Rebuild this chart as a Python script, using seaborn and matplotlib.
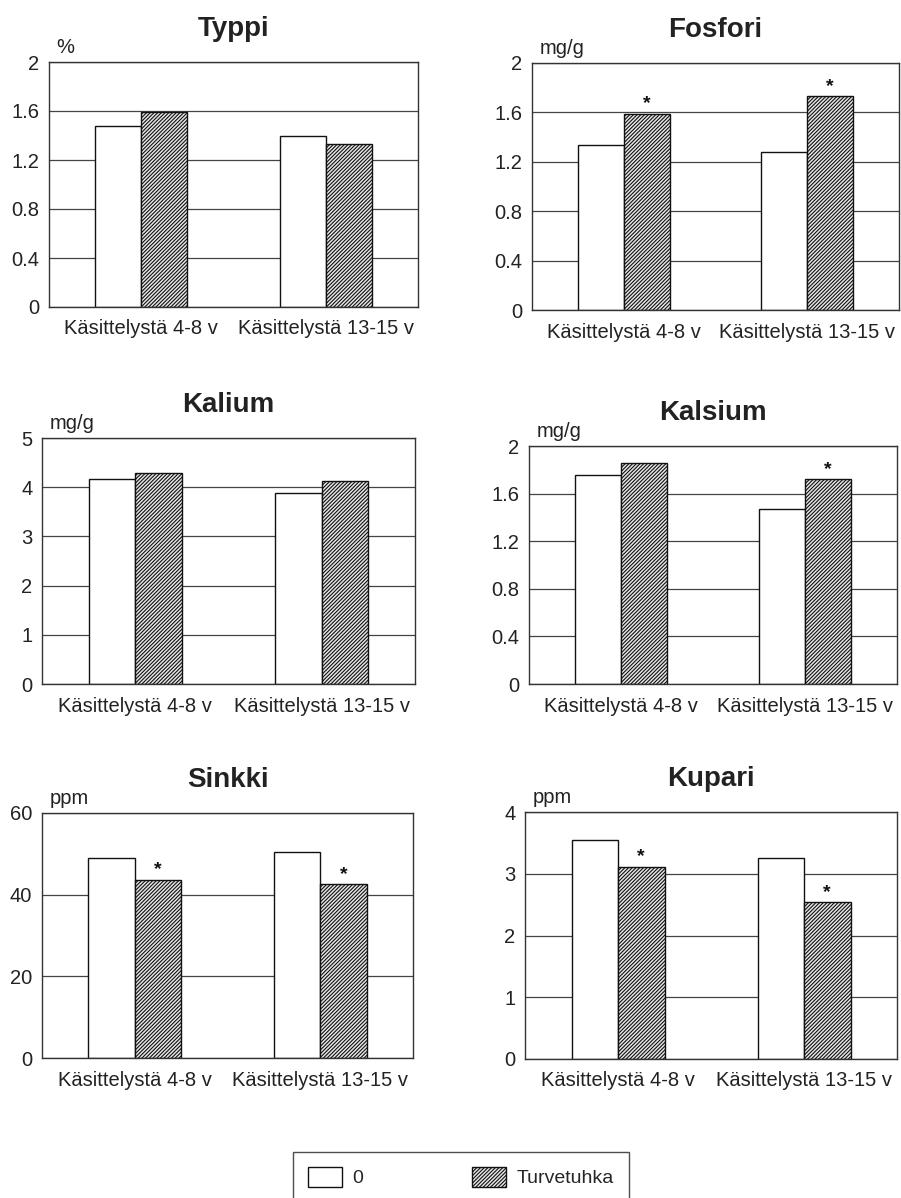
import numpy as np
import pandas as pd
import seaborn as sns
import matplotlib.pyplot as plt
from matplotlib.patches import Patch

######################
####### data #########
######################
categories = ['Käsittelystä 4-8 v', 'Käsittelystä 13-15 v']
groups = ['0', 'Turvetuhka']
titles = ['Typpi', 'Fosfori', 'Kalium', 'Kalsium', 'Sinkki', 'Kupari']
units = ['%', 'mg/g', 'mg/g', 'mg/g', 'ppm', 'ppm']

typpi_0 = [1.48, 1.40]
typpi_t = [1.59, 1.33]
fosfori_0 = [1.34, 1.28]
fosfori_t = [1.59, 1.73]
kalium_0 = [4.17, 3.89]
kalium_t = [4.29, 4.13]
kalsium_0 = [1.76, 1.47]
kalsium_t = [1.86, 1.72]
sinkki_0 = [48.9, 50.5]
sinkki_t = [43.6, 42.5]
kupari_0 = [3.54, 3.26]
kupari_t = [3.11, 2.54]

## significance marks (*) on the Turvetuhka bars
signif = [[False, False], [True, True], [False, False],
          [False, True], [True, True], [True, True]]

yticks = [[0, 0.4, 0.8, 1.2, 1.6, 2],
          [0, 0.4, 0.8, 1.2, 1.6, 2],
          [0, 1, 2, 3, 4, 5],
          [0, 0.4, 0.8, 1.2, 1.6, 2],
          [0, 20, 40, 60],
          [0, 1, 2, 3, 4]]

values = [(typpi_0, typpi_t), (fosfori_0, fosfori_t), (kalium_0, kalium_t),
          (kalsium_0, kalsium_t), (sinkki_0, sinkki_t), (kupari_0, kupari_t)]

#####################
######## plot #######
#####################
sns.set_style('white')
plt.rcParams['font.family'] = ['Liberation Sans', 'DejaVu Sans']
plt.rcParams['hatch.linewidth'] = 0.8
HATCH = '/' * 9

W, H = 901, 1198
fig = plt.figure(figsize=(W / 100, H / 100), dpi=100)

## axes boxes in pixels: left, top, right, bottom
boxes = [(49, 62, 418, 307), (532, 63, 899, 310),
         (42, 438, 415, 684), (529, 446, 897, 684),
         (42, 813, 413, 1058), (525, 812, 897, 1059)]

for i, (l, t, r, b) in enumerate(boxes):
    ax = fig.add_axes([l / W, 1 - b / H, (r - l) / W, (b - t) / H])
    v0, vt = values[i]
    df = pd.DataFrame({'period': categories * 2,
                       'group': [groups[0]] * 2 + [groups[1]] * 2,
                       'value': list(v0) + list(vt)})
    sns.barplot(data=df, x='period', y='value', hue='group', order=categories,
                hue_order=groups, palette={'0': 'white', 'Turvetuhka': '#e6e6e6'},
                saturation=1, width=0.5, edgecolor='#111111', linewidth=1.0,
                errorbar=None, legend=False, ax=ax)
    for bar in ax.containers[1]:
        bar.set_hatch(HATCH)
    ## stars
    for j, bar in enumerate(ax.containers[1]):
        if signif[i][j]:
            ax.annotate('*', (bar.get_x() + bar.get_width() / 2, bar.get_height()),
                        xytext=(0, 1), textcoords='offset points', ha='center',
                        va='bottom', fontsize=14, fontweight='bold', color='#111111')
    ax.set_xlim(-0.5, 1.5)
    ax.set_ylim(yticks[i][0], yticks[i][-1])
    ax.set_yticks(yticks[i])
    ax.set_yticklabels([f'{v:g}' for v in yticks[i]])
    ax.set_axisbelow(True)
    ax.yaxis.grid(True, color='#444444', linewidth=0.9)
    ax.xaxis.grid(False)
    ax.tick_params(length=0, labelsize=14.5, colors='#222222')
    ax.tick_params(axis='x', pad=9, labelsize=14.5)
    ax.tick_params(axis='y', pad=7)
    ax.set_xlabel('')
    ax.set_ylabel('')
    for s in ax.spines.values():
        s.set_visible(True)
        s.set_color('#333333')
        s.set_linewidth(1.0)
    ax.set_title(titles[i], fontsize=20, fontweight='bold', color='#222222', pad=19)
    ax.text(0.02, 1.02, units[i], transform=ax.transAxes, fontsize=14.5,
            color='#222222', ha='left', va='bottom')

## legend
handles = [Patch(facecolor='white', edgecolor='#111111', linewidth=1.0, label=groups[0]),
           Patch(facecolor='#e6e6e6', edgecolor='#111111', linewidth=1.0, hatch=HATCH,
                 label=groups[1])]
leg = fig.legend(handles=handles, loc='upper center', bbox_to_anchor=(461 / W, 1 - 1152 / H),
                 ncol=2, frameon=True, fancybox=False, fontsize=14, handlelength=1.75,
                 handleheight=1.25, columnspacing=5.6, handletextpad=0.55, borderpad=0.75,
                 borderaxespad=0)
leg.get_frame().set_edgecolor('#222222')
leg.get_frame().set_linewidth(1.0)

fig.savefig('out.png', dpi=100)
